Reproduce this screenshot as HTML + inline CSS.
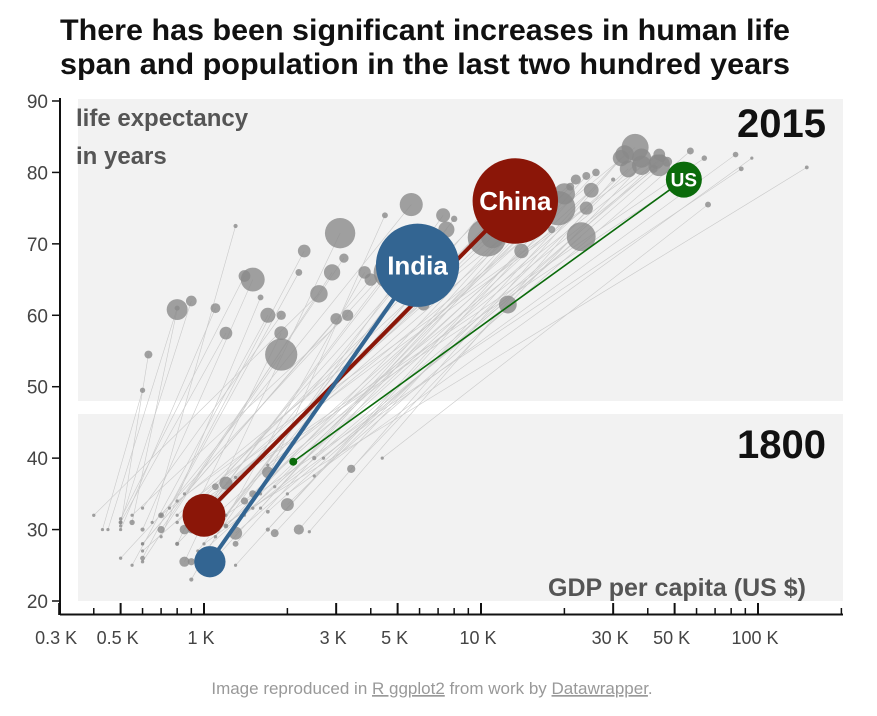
<!DOCTYPE html>
<html><head><meta charset="utf-8"><style>
body{margin:0;background:#fff;width:877px;height:716px;overflow:hidden;font-family:"Liberation Sans",sans-serif}
svg{display:block}
</style></head><body>
<svg id="chart" width="877" height="716" xmlns="http://www.w3.org/2000/svg">
<text x="60" y="40" font-size="29.5" font-weight="bold" fill="#111" textLength="730" lengthAdjust="spacingAndGlyphs">There has been significant increases in human life</text>
<text x="60" y="74" font-size="29.5" font-weight="bold" fill="#111" textLength="730" lengthAdjust="spacingAndGlyphs">span and population in the last two hundred years</text>
<rect x="78" y="99" width="765" height="302" fill="#f2f2f2"/>
<rect x="78" y="414" width="765" height="187" fill="#f2f2f2"/>
<g id="marks"></g>
<text x="76" y="126" font-size="24" font-weight="bold" fill="#555">life expectancy</text>
<text x="76" y="164" font-size="24" font-weight="bold" fill="#555">in years</text>
<text x="826" y="137" font-size="40" font-weight="bold" fill="#111" text-anchor="end">2015</text>
<text x="826" y="458" font-size="40" font-weight="bold" fill="#111" text-anchor="end">1800</text>
<text x="806" y="596" font-size="25" font-weight="bold" fill="#555" text-anchor="end">GDP per capita (US $)</text>
<g id="axes"></g>
<text x="432" y="694" font-size="17" fill="#999" text-anchor="middle">Image reproduced in <tspan text-decoration="underline">R ggplot2</tspan> from work by <tspan text-decoration="underline">Datawrapper</tspan>.</text>
</svg>
<script>
// [gdp1800 (K$), life1800, gdp2015 (K$), life2015, pop1800 (M), pop2015 (M)]
const countries=[
[0.85,30,10.5,70.9,16,255],[1.1,32,19,75,3,205],[0.9,30,4.7,66,10,190],[0.7,30,1.9,54.5,9,180],
[0.85,25.5,3.1,71.5,18,160],[1.3,29.5,23,71,30,145],[1.2,36.5,36,83.5,30,127],[1.3,28,16.5,75,6,125],
[1.1,30,6.5,69,2,100],[0.6,30,1.5,65,3,99],[0.7,32,5.6,75.5,6,92],[1,33,11,71,3,92],
[1.7,38,44,81,23,82],[1.1,26,16,76,6,79],[1.5,35,20,77,9,78],[0.55,31,0.8,60.8,5,76],
[1.2,30.5,15,75,4,68],[2.0,33.5,38,82,29,64],[3.4,38.5,38,81,12,65],[2.2,30,33,82.5,18,60],
[1.5,33,12.5,61.5,2,55],[0.9,30,4.7,66.5,4,53],[0.9,25.5,34,80.5,9,50],[0.8,32,12.5,75,1,48],
[1.8,29.5,32,82,11,46],[0.6,25.5,2.9,66,2,46],[1.6,33,17,76,0.5,43],[1.1,36,7.5,72,8,45],
[0.8,28,13.5,77,2,40],[1.0,31,6,68,3,40],[1.4,34,25,77.5,9,38],[0.55,25,1.7,60,1,39],
[1.7,39,43,81.5,0.5,36],[1.2,30.5,14,69,1.5,36],[1.1,29,7.3,74,2,34],[0.8,28,1.9,57.5,3,33],
[0.8,31,11.5,76,2,31],[0.9,34,24,75,0.3,30],[0.7,32,15,74,0.8,31],[0.9,33,50,78,2,31],
[0.5,26,5.6,70,2,31],[0.6,26,2.3,69,4,28],[0.6,28,4,65,2,27],[0.5,31,1.2,57.5,3,28],
[0.9,23,3.8,66,3,27],[0.8,34,44,82.5,0.3,24],[0.43,30,0.6,49.5,0.5,4.9],[0.5,30.5,0.63,54.5,1,11],
[0.45,30,0.8,61,0.5,4.5],[0.5,31,0.9,62,1,20],[0.5,31.5,1.4,65.5,2,24],[0.5,30,1.1,61,1,17],
[0.6,33,1.9,60,1,15],[1.1,30,150,80.7,0.01,2.5],[2,35,95,82,0.1,0.6],[1,30,87,80.5,0.05,4],
[1.3,37.3,64,82,0.9,5.2],[1,28,83,82.5,0.1,5.5],[2.5,37.5,57,83,1.8,8.3],[2.7,40,47,81.5,2,17],
[1.7,32.5,45,82,2.4,9.8],[2.5,40,42,80.5,3,11],[0.9,32,22,79,1,18],[1.3,25,24,79.5,1.5,11],
[1.7,30,26,80,3,10],[1.4,32,21,78,0.3,11],[1.2,32,11,76,1.5,21],[0.85,35,3.2,68,1,15],
[0.6,27,6.2,61.5,1,25],[0.6,28,3,59.5,1,23],[0.55,32,3.3,60,1,22],[0.4,32,2.6,63,2,53],
[0.65,31,1.3,72.5,0.5,3],[0.75,33,2.2,66,1,8],[1.6,35,4.5,74,0.4,6],[0.95,27,8,73.5,0.6,7],
[2.4,29.7,30,79,0.3,3],[4.4,40,66,75.5,0.05,6],[1.8,36,18,72,0.6,9],[0.7,29,1.6,62.5,0.5,6]
];
const names=["China","India","US"];
const g1800=[1.0,1.05,2.1], l1800=[32,25.5,39.5], g2015=[13.3,5.9,54], l2015=[76,67,79];
const p1800=[320,170,6], p2015=[1380,1310,220];
const xTicks=[0.3,0.5,1,3,5,10,30,50,100];
const xTickLabels=["0.3 K","0.5 K","1 K","3 K","5 K","10 K","30 K","50 K","100 K"];
const xMinor=[0.4,0.6,0.7,0.8,0.9,2,4,6,7,8,9,20,40,60,70,80,90,200];
const yTicks=[20,30,40,50,60,70,80,90];

const NS="http://www.w3.org/2000/svg";
const X=v=>204+277*Math.log10(v);
const Y=v=>601-(v-20)*7.143;
const R=p=>Math.max(1.6,1.2*Math.sqrt(p));
const marks=document.getElementById('marks'), axes=document.getElementById('axes');
function mk(tag,attrs,parent){const e=document.createElementNS(NS,tag);for(const k in attrs)e.setAttribute(k,attrs[k]);parent.appendChild(e);return e;}

countries.forEach(c=>{
  const l=mk('line',{x1:X(c[0]),y1:Y(c[1]),x2:X(c[2]),y2:Y(c[3]),stroke:'#c9c9c9','stroke-width':0.6},marks);
  
  
});
countries.forEach(c=>{
  const a=mk('circle',{cx:X(c[0]),cy:Y(c[1]),r:R(c[4]),fill:'#8a8a8a','fill-opacity':0.8},marks);
  
  
  const b=mk('circle',{cx:X(c[2]),cy:Y(c[3]),r:R(c[5]),fill:'#8a8a8a','fill-opacity':0.8},marks);
  
  
});
const cols=['#8b1608','#336592','#0b6b0b'], widths=[4,4,1.6];
[2,0,1].forEach(i=>{
  const ln=mk('line',{x1:X(g1800[i]),y1:Y(l1800[i]),x2:X(g2015[i]),y2:Y(l2015[i]),stroke:cols[i],'stroke-width':widths[i]},marks);
  
  
  const a=mk('circle',{cx:X(g1800[i]),cy:Y(l1800[i]),r:Math.max(4,1.2*Math.sqrt(p1800[i])),fill:cols[i]},marks);
  
  
  const b=mk('circle',{cx:X(g2015[i]),cy:Y(l2015[i]),r:i==2?18:1.15*Math.sqrt(p2015[i]),fill:cols[i]},marks);
  
  
  const t=mk('text',{x:X(g2015[i]),y:Y(l2015[i])+(i==2?7:9),'text-anchor':'middle','font-size':i==2?19:26,'font-weight':'bold',fill:'#fff'},marks);
  t.textContent=names[i];
  
  
});

const xa=mk('line',{x1:60,y1:614.5,x2:843,y2:614.5,stroke:'#111','stroke-width':2},axes);


const ya=mk('line',{x1:60,y1:98,x2:60,y2:615,stroke:'#111','stroke-width':2},axes);


xTicks.forEach((v,i)=>{
  const t=mk('line',{x1:X(v),y1:603,x2:X(v),y2:615,stroke:'#111','stroke-width':2},axes);
  
  
  const l=mk('text',{x:X(v)-3,y:644,'text-anchor':'middle','font-size':18,fill:'#444'},axes);
  l.textContent=xTickLabels[i];
  
  
});
xMinor.forEach(v=>{
  const t=mk('line',{x1:X(v),y1:608,x2:X(v),y2:615,stroke:'#111','stroke-width':1.5},axes);
  
  
});
yTicks.forEach(v=>{
  const t=mk('line',{x1:52,y1:Y(v),x2:60,y2:Y(v),stroke:'#111','stroke-width':1.5},axes);
  
  
  const l=mk('text',{x:48,y:Y(v)+7,'text-anchor':'end','font-size':19,fill:'#444'},axes);
  l.textContent=v;
  
  
});
</script>
</body></html>
